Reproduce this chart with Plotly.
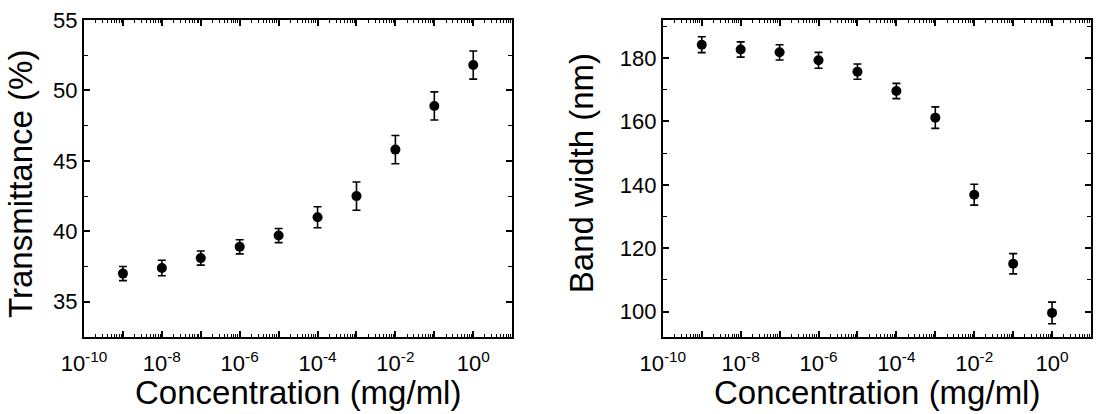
import plotly.graph_objects as go

# ---- data ----
concentration = [1e-9, 1e-8, 1e-7, 1e-6, 1e-5, 1e-4, 1e-3, 1e-2, 1e-1, 1e0]
transmittance = [37.0, 37.4, 38.1, 38.9, 39.7, 41.0, 42.5, 45.8, 48.9, 51.8]
transmittance_err = [0.5, 0.55, 0.5, 0.5, 0.5, 0.75, 1.0, 1.0, 1.0, 1.0]
bandwidth = [184.2, 182.7, 181.8, 179.3, 175.7, 169.6, 161.2, 136.9, 115.1, 99.6]
bandwidth_err = [2.5, 2.4, 2.4, 2.5, 2.4, 2.4, 3.4, 3.3, 3.2, 3.4]

x_decades = list(range(-10, 2))
x_tickvals = [10.0 ** k for k in x_decades]
x_ticktext = [("10<sup>%d</sup>" % k) if k % 2 == 0 else "" for k in x_decades]
x_minor = [m * 10.0 ** k for k in range(-10, 1) for m in range(2, 10)]

FONT = "Liberation Sans, Arial, sans-serif"
TITLE_SIZE = 33

fig = go.Figure()

marker = dict(color="black", size=10, symbol="circle")
def err(arr):
    return dict(type="data", array=arr, visible=True, color="black",
                thickness=1.6, width=4)

fig.add_trace(go.Scatter(x=concentration, y=transmittance, mode="markers",
                         marker=marker, error_y=err(transmittance_err),
                         xaxis="x", yaxis="y", showlegend=False))
fig.add_trace(go.Scatter(x=concentration, y=bandwidth, mode="markers",
                         marker=marker, error_y=err(bandwidth_err),
                         xaxis="x2", yaxis="y2", showlegend=False))

xaxis_common = dict(
    type="log", range=[-10, 1], tickmode="array", tickvals=x_tickvals,
    ticktext=x_ticktext, ticks="inside", ticklen=6, tickwidth=1.5,
    tickcolor="black", showline=True, linecolor="black", linewidth=2,
    mirror="ticks", showgrid=False, zeroline=False, ticklabelstandoff=6,
    tickfont=dict(family=FONT, size=22, color="black"),
    minor=dict(tickmode="array", tickvals=x_minor, ticks="inside", ticklen=3,
               tickwidth=1, tickcolor="black", showgrid=False),
)
yaxis_common = dict(
    ticks="inside", ticklen=6, tickwidth=1.5, tickcolor="black",
    showline=True, linecolor="black", linewidth=2, mirror="ticks",
    showgrid=False, zeroline=False,
    tickfont=dict(family=FONT, size=22, color="black"),
)

fig.update_layout(
    width=1101, height=414,
    margin=dict(l=84, r=8, t=17, b=77),
    paper_bgcolor="white", plot_bgcolor="white",
    font=dict(family=FONT, color="black"),
    xaxis=dict(domain=[0, 0.4252], anchor="y", **xaxis_common),
    xaxis2=dict(domain=[0.5748, 1], anchor="y2", **xaxis_common),
    yaxis=dict(domain=[0, 1], anchor="x", range=[32.5, 55], tickmode="linear",
               tick0=35, dtick=5,
               minor=dict(dtick=2.5, tick0=35, ticks="inside", ticklen=4,
                          tickwidth=1.2, tickcolor="black", showgrid=False),
               **yaxis_common),
    yaxis2=dict(domain=[0, 1], anchor="x2", range=[92, 192], tickmode="linear",
                tick0=100, dtick=20,
                minor=dict(dtick=10, tick0=100, ticks="inside", ticklen=4,
                           tickwidth=1.2, tickcolor="black", showgrid=False),
                **yaxis_common),
    annotations=[
        dict(text="Concentration (mg/ml)", xref="x domain", yref="paper",
             x=0.5, y=-0.174, xanchor="center", yanchor="middle",
             showarrow=False, font=dict(family=FONT, size=TITLE_SIZE, color="black")),
        dict(text="Concentration (mg/ml)", xref="x2 domain", yref="paper",
             x=0.5, y=-0.174, xanchor="center", yanchor="middle",
             showarrow=False, font=dict(family=FONT, size=TITLE_SIZE, color="black")),
        dict(text="Transmittance (%)", xref="paper", yref="paper",
             x=-0.0625, y=0.483, xanchor="center", yanchor="middle",
             textangle=-90, showarrow=False,
             font=dict(family=FONT, size=TITLE_SIZE, color="black")),
        dict(text="Band width (nm)", xref="paper", yref="paper",
             x=0.4936, y=0.517, xanchor="center", yanchor="middle",
             textangle=-90, showarrow=False,
             font=dict(family=FONT, size=TITLE_SIZE, color="black")),
    ],
)

fig.write_html("out.html")
